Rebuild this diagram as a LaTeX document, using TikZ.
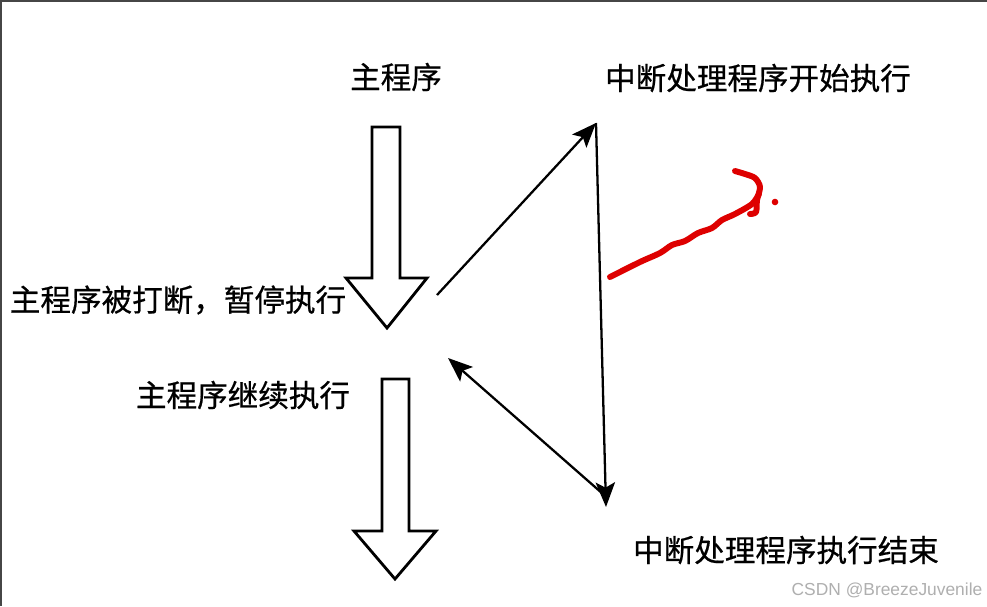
\documentclass[tikz,border=0pt]{standalone}
\usepackage{fontspec}
\setmainfont{Liberation Sans}
\newfontfamily\cjk[FakeBold=0.6]{Noto Sans CJK SC}
\usetikzlibrary{arrows.meta}
\definecolor{framegray}{RGB}{70,70,70}
\definecolor{inkred}{RGB}{222,0,0}
\definecolor{markgray}{RGB}{175,175,175}

\begin{document}
\begin{tikzpicture}[x=0.02cm,y=-0.02cm,
    label/.style={inner sep=0pt,font=\cjk\fontsize{17.4}{20}\selectfont},
    hollow/.style={draw=black,fill=white,line width=1.6pt,line join=miter},
    flow/.style={line width=1.3pt,-{Stealth[length=14pt,width=11pt,inset=3pt]}}]

    \useasboundingbox (0,0) rectangle (987,606);

    % 底色与上、左边框

    \fill[white] (0,0) rectangle (987,606);
    \draw[framegray,line width=1.4pt] (1,606) -- (1,1) -- (987,1);

    % 文字

    \node[label] (main) at (396,77) {主程序};
    \node[label] (isrbegin) at (758,78) {中断处理程序开始执行};
    \node[label] (paused) at (178,300) {主程序被打断，暂停执行};
    \node[label] (resume) at (243,395) {主程序继续执行};
    \node[label] (isrend) at (786,550) {中断处理程序执行结束};

    % 空心大箭头

    \draw[hollow] (372,127) -- (400,127) -- (400,278) -- (427,278)
      -- (387,328) -- (346,278) -- (372,278) -- cycle;
    \draw[hollow] (382,379) -- (409,379) -- (409,531) -- (436,531)
      -- (395,579) -- (354,531) -- (382,531) -- cycle;

    % 中断的来回

    \coordinate (leave) at (437,295);
    \coordinate (top) at (596,123);
    \coordinate (bottom) at (606,507);
    \coordinate (turn) at (603,494);
    \coordinate (back) at (448,358);

    \draw[flow] (leave) -- (top);
    \draw[flow] (top) -- (bottom);
    \draw[flow] (turn) -- (back);

    % 红色手绘

    \draw[inkred,line width=3.4pt,line cap=round,line join=round]
      plot[smooth,tension=0.5] coordinates {(610,277) (640,262) (660,253)
        (672,245) (685,241) (698,233) (712,228) (722,220) (735,214)
        (752,204) (759,194)};
    \draw[inkred,line width=3.4pt,line cap=round,line join=round]
      plot[smooth,tension=0.5] coordinates {(735,171) (745,174) (755,178)
        (760,187) (757,200) (756,212) (750,214)};
    \fill[inkred] (775,202) circle (3.3);

    % 水印

    \node[inner sep=0pt,text=markgray,font=\fontsize{9.9}{12}\selectfont]
      (mark) at (887,590) {CSDN @BreezeJuvenile};

\end{tikzpicture}
\end{document}
